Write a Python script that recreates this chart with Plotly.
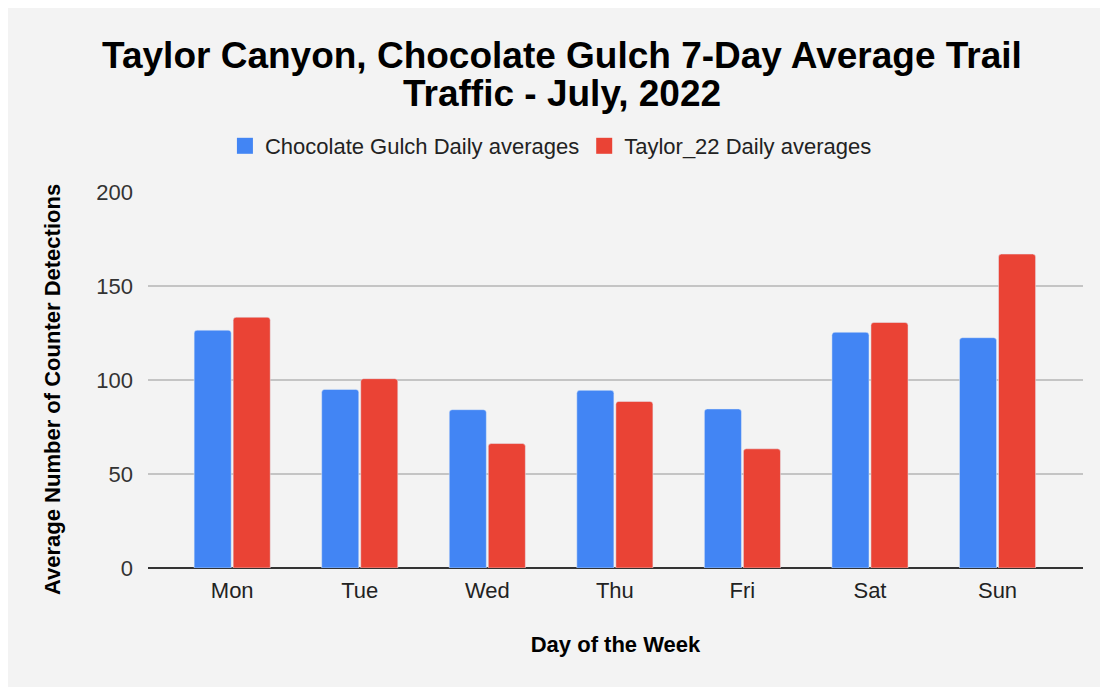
import plotly.graph_objects as go

days = ["Mon", "Tue", "Wed", "Thu", "Fri", "Sat", "Sun"]
chocolate_gulch = [126.5, 95, 84.2, 94.5, 84.6, 125.4, 122.5]
taylor_22 = [133.4, 100.7, 66.2, 88.6, 63.4, 130.6, 167]

series_names = ["Chocolate Gulch Daily averages", "Taylor_22 Daily averages"]
series_colors = ["#4285f4", "#ea4335"]

font_family = "Liberation Sans, Arial, sans-serif"

fig = go.Figure()
for name, vals, col in zip(series_names, [chocolate_gulch, taylor_22], series_colors):
    fig.add_trace(go.Bar(
        x=days, y=vals, name=name, showlegend=False,
        marker=dict(color=col, cornerradius=3)
    ))
    # bigger legend swatch than the default bar one
    fig.add_trace(go.Scatter(
        x=[None], y=[None], mode="markers", name=name,
        marker=dict(symbol="square", size=22, color=col)
    ))

fig.update_layout(
    width=1108, height=687,
    paper_bgcolor="#f3f3f3", plot_bgcolor="#f3f3f3",
    margin=dict(l=140, r=33, t=184, b=127),
    font=dict(family=font_family, color="#222222", size=22),
    title=dict(
        text="<b>Taylor Canyon, Chocolate Gulch 7-Day Average Trail</b>",
        x=0.5, xanchor="center", y=1 - 47 / 687, yanchor="middle", yref="container",
        font=dict(size=37, color="#000000", family=font_family)
    ),
    annotations=[
        dict(
            text="<b>Traffic - July, 2022</b>", showarrow=False,
            xref="paper", x=(554 - 140) / 935, xanchor="center",
            yref="paper", y=1 + (184 - 85.5) / 376, yanchor="middle",
            font=dict(size=37, color="#000000", family=font_family)
        ),
        dict(
            text="<b>Average Number of Counter Detections</b>", showarrow=False,
            textangle=-90, xref="paper", x=(52 - 148) / 935, xanchor="center",
            yref="paper", y=(568 - 390) / 376, yanchor="middle",
            font=dict(size=22, color="#000000", family=font_family)
        ),
    ],
    legend=dict(
        orientation="h", xref="container", x=0.49, xanchor="center",
        yref="container", y=1 - 138 / 687, yanchor="middle",
        font=dict(size=22, color="#222222"), bgcolor="rgba(0,0,0,0)",
        itemwidth=30
    ),
    bargap=0.388, bargroupgap=0.05,
    xaxis=dict(
        title=dict(text="<b>Day of the Week</b>", font=dict(size=22, color="#000000"), standoff=34),
        tickfont=dict(size=22, color="#222222"),
        range=[-0.66, 6.67],
        showgrid=False, showline=False, ticks="", ticklabelstandoff=7
    ),
    yaxis=dict(
        range=[0, 200], tickvals=[0, 50, 100, 150, 200],
        tickfont=dict(size=22, color="#333333"),
        gridcolor="#c4c4c4", gridwidth=1.5,
        zeroline=True, zerolinecolor="#333333", zerolinewidth=1.5,
        ticks="", ticklabelstandoff=14
    ),
)

fig.write_html("out.html")
